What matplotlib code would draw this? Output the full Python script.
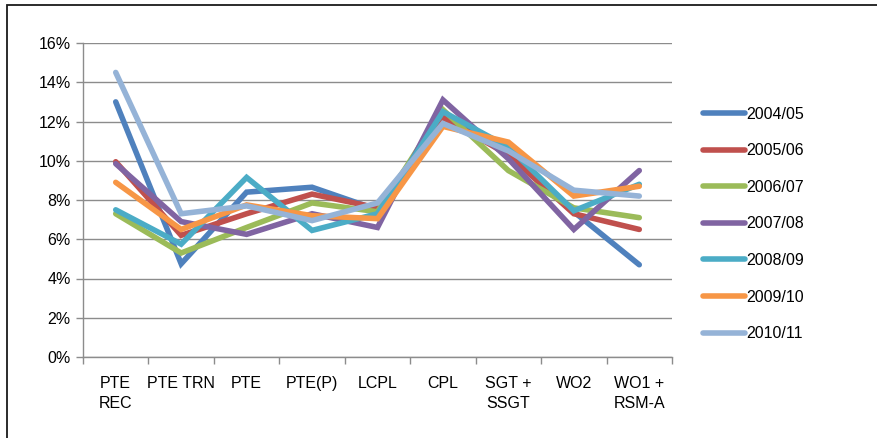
import matplotlib
matplotlib.use('Agg')
import matplotlib.pyplot as plt
from matplotlib.ticker import FuncFormatter, FixedLocator
from matplotlib.patches import Rectangle

plt.rcParams['font.family'] = ['Liberation Sans', 'DejaVu Sans']

categories = ['PTE\nREC', 'PTE TRN', 'PTE', 'PTE(P)', 'LCPL', 'CPL', 'SGT +\nSSGT', 'WO2', 'WO1 +\nRSM-A']
years = ['2004/05', '2005/06', '2006/07', '2007/08', '2008/09', '2009/10', '2010/11']

# values in percent
v_2004 = [13.0, 4.75, 8.4, 8.65, 7.5, 12.3, 10.5, 7.4, 4.7]
v_2005 = [9.95, 6.2, 7.3, 8.3, 7.6, 12.2, 10.3, 7.3, 6.5]
v_2006 = [7.3, 5.3, 6.6, 7.85, 7.4, 12.6, 9.5, 7.6, 7.1]
v_2007 = [9.85, 6.9, 6.25, 7.3, 6.6, 13.1, 10.1, 6.5, 9.5]
v_2008 = [7.5, 5.75, 9.15, 6.45, 7.3, 12.5, 10.7, 7.45, 8.8]
v_2009 = [8.9, 6.5, 7.75, 7.2, 7.05, 11.75, 10.95, 8.2, 8.7]
v_2010 = [14.5, 7.3, 7.7, 6.95, 7.85, 11.9, 10.5, 8.5, 8.2]

series = [v_2004, v_2005, v_2006, v_2007, v_2008, v_2009, v_2010]
colors = ['#4F81BD', '#C0504D', '#9BBB59', '#8064A2', '#4BACC6', '#F79646', '#95B3D7']

fig = plt.figure(figsize=(8.77, 4.38), dpi=100)
ax = fig.add_axes([83 / 877, 1 - 357 / 438, (672 - 83) / 877, (357 - 43) / 438])

x = list(range(1, len(categories) + 1))
for vals, col, lab in zip(series, colors, years):
    ax.plot(x, vals, color=col, lw=4, label=lab, solid_capstyle='round',
            solid_joinstyle='miter', zorder=3)

ax.set_xlim(0.5, len(categories) + 0.5)
ax.set_ylim(0, 16)
ax.set_yticks(range(0, 17, 2))
ax.yaxis.set_major_formatter(FuncFormatter(lambda v, p: f'{v:.0f}%'))
ax.yaxis.grid(True, color='#8c8c8c', lw=1.0)
ax.set_axisbelow(True)

ax.xaxis.set_major_locator(FixedLocator([i + 0.5 for i in range(len(categories) + 1)]))
ax.xaxis.set_major_formatter(FuncFormatter(lambda v, p: ''))
ax.set_xticks(x, minor=True)
ax.set_xticklabels(categories, minor=True, fontsize=11.5, linespacing=1.4)
ax.tick_params(axis='x', which='major', length=5, color='#8c8c8c', width=1.0, direction='out')
ax.tick_params(axis='x', which='minor', length=0, pad=14)
ax.tick_params(axis='y', length=5, color='#8c8c8c', width=1.0, labelsize=11.5, pad=4)

for s in ['top', 'right']:
    ax.spines[s].set_visible(False)
for s in ['left', 'bottom']:
    ax.spines[s].set_color('#8c8c8c')
    ax.spines[s].set_linewidth(1.0)

fig.legend(loc='center left', bbox_to_anchor=(703 / 877, 1 - 224 / 438),
           bbox_transform=fig.transFigure, frameon=False, fontsize=11.5,
           handlelength=2.6, handletextpad=0.1, labelspacing=1.35,
           borderpad=0, borderaxespad=0)

fig.patches.append(Rectangle((7 / 877, -0.1), 1.2, 1 - 5 / 438 + 0.1, transform=fig.transFigure,
                             fill=False, edgecolor='#1a1a1a', lw=1.3))

fig.savefig('out.png', dpi=100)
